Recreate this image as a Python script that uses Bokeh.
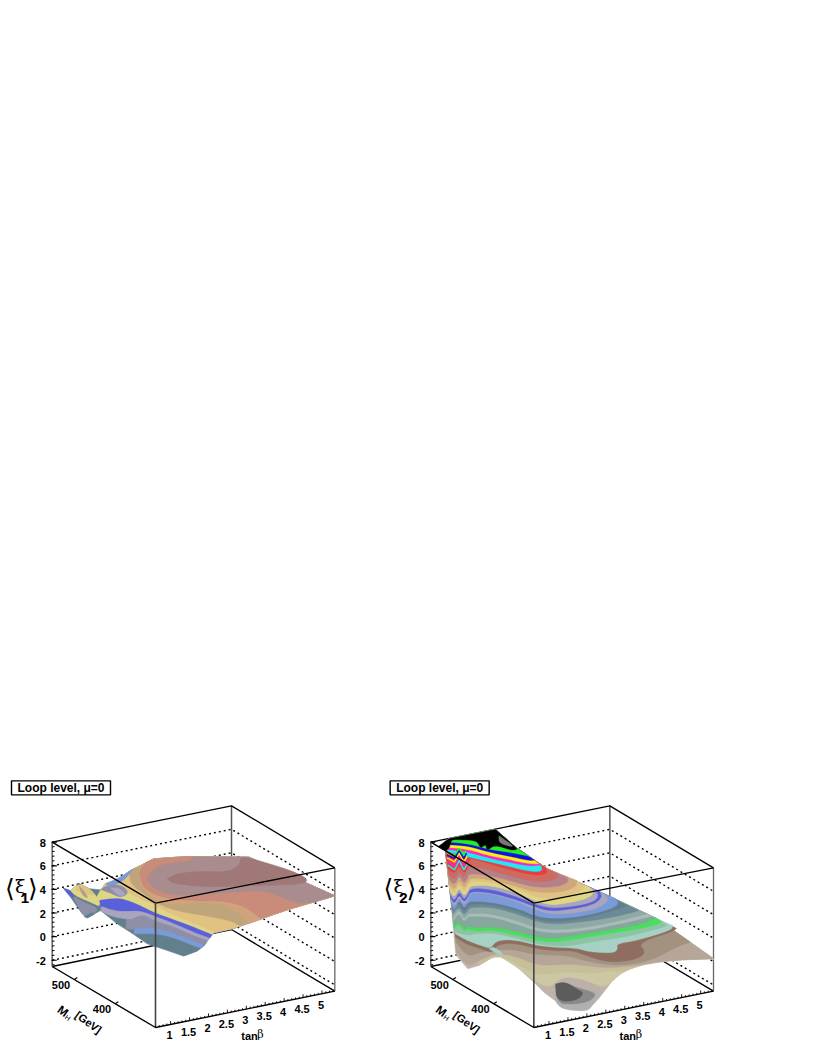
from bokeh.plotting import figure
from bokeh.models import Range1d
from bokeh.layouts import row
from bokeh.embed import file_html
from bokeh.resources import INLINE
from bokeh.core.properties import value

# ---------- axis values ----------
z_ticks = [-2, 0, 2, 4, 6, 8]
z_labels = ["-2", "0", "2", "4", "6", "8"]
z_grid = [-2, 0, 2, 4, 6]
tan_ticks = [1, 1.5, 2, 2.5, 3, 3.5, 4, 4.5, 5]
tan_labels = ["1", "1.5", "2", "2.5", "3", "3.5", "4", "4.5", "5"]
mh_ticks = [400, 500]
mh_labels = ["400", "500"]
Z_MIN, Z_MAX = -2.53, 8.0
TAN_MIN, TAN_MAX = 0.6, 5.34
MH_MIN, MH_MAX = 302.0, 554.0

# ---------- surface 1 : picture units ----------
s1_outline = [(188,353),(210,360),(235,338),(268,355),(300,358),(315,340),(345,328),(360,320),(390,300),(420,285),(460,265),(560,258),(745,260),(1003,376),(860,418),(695,475),(640,487),(625,505),(612,525),(590,542),(550,557),(500,540),(440,520),(400,492),(350,460),(300,420),(260,443),(245,430),(210,380)]
s1_ring = [(300,358),(315,340),(345,328),(360,320),(390,300),(420,285),(460,265),(560,258),(745,260),(1003,376)]
s1_lower = [(860,418),(695,475),(640,487),(625,505)]
s1_base_colour = "#62808c"
s1_bands = [
 ("#7b9bd8", [(602,533),(590,530),(520,502),(470,490),(420,490),(400,490)]),
 ("#8d8ea8", [(612,522),(580,512),(520,487),(460,472),(420,472),(390,478),(375,474)]),
 ("#a9a5be", [(622,510),(580,495),(520,468),(460,450),(430,432),(405,440),(390,447),(340,440),(300,422)]),
 ("#5a5fdc", [(628,502),(580,485),(520,458),(460,435),(420,420),(375,422),(340,420),(300,405),(280,405)]),
 ("#dfd685", [(635,492),(570,465),(520,447),(460,425),(420,405),(390,392),(355,382),(320,385),(300,388),(280,395)]),
 ("#e2c283", [(645,486),(570,453),(520,434),(465,405),(420,385),(395,372),(360,355),(345,360),(320,362),(301,358)]),
 ("#bfa57b", [(720,467),(690,450),(610,435),(530,422),(465,398),(430,370),(395,345),(385,320),(392,298)]),
 ("#d1a37c", [(745,460),(725,430),(660,400),(600,395),(530,405),(470,395),(440,370),(420,340),(415,320),(425,284)]),
 ("#c98b7a", [(780,444),(730,405),(660,390),(600,392),(500,385),(435,360),(418,325),(418,300),(435,276)]),
 ("#a98d8e", [(945,394),(885,400),(800,360),(720,362),(640,370),(520,375),(470,360),(445,340),(440,318),(470,285),(530,275),(570,272),(575,259)]),
]
s1_patches = [
 ("#a07878", [(500,325),(525,310),(590,302),(685,305),(720,280),(718,262),(745,260),(910,312),(925,340),(800,345),(760,345),(620,350),(520,340)]),
 ("#8d8ea8", [(215,375),(250,395),(300,415),(260,443),(245,430)]),
 ("#62808c", [(250,438),(275,425),(285,430),(260,443)]),
 ("#5a5fdc", [(188,353),(210,360),(225,385),(205,372)]),
 ("#dfd685", [(210,360),(235,338),(268,355),(295,385),(300,410),(270,395),(245,385),(220,372)]),
 ("#e2c283", [(225,360),(235,340),(268,355),(285,375),(255,370)]),
 ("#b0a088", [(235,345),(245,375),(265,385),(250,360)]),
 ("#7b9bd8", [(315,340),(345,328),(360,320),(390,300),(400,295),(375,325),(350,342),(325,347)]),
 ("#8d8ea8", [(302,358),(315,346),(345,342),(370,348),(385,368),(360,382),(330,368)]),
 ("#a9a5be", [(330,352),(355,352),(378,372),(355,378)]),
]
s1_traces = []

# ---------- surface 2 : picture units ----------
s2_outline = [(175,228),(205,205),(345,177),(405,230),(500,295),(660,365),(830,445),(1000,565),(900,568),(840,574),(790,582),(750,595),(720,610),(695,632),(675,658),(655,684),(635,705),(610,714),(580,714),(550,705),(520,688),(490,665),(460,635),(410,590),(350,552),(295,585),(262,595),(230,558),(225,545),(212,400),(195,240)]
s2_top = [(1000,565),(830,445),(660,365),(500,295),(405,230),(345,177),(205,205),(175,228),(195,240)]
s2_base_colour = "#bfb3aa"
s2_bands = [
 ("#cdc8a4", [(350,552),(410,590),(460,630),(500,650),(530,640),(570,628),(640,640),(672,650),(695,632),(720,610),(750,595),(790,582),(840,574),(900,568),(1000,565)]),
 ("#c6bf9a", [(295,585),(350,552),(420,585),(460,610),(500,612),(560,603),(640,610),(690,600),(720,606),(750,595),(790,582),(840,574),(900,568),(1000,565)]),
 ("#b5a698", [(228,545),(262,590),(300,568),(350,548),(400,556),(460,580),(500,585),(580,580),(660,592),(720,590),(790,582),(840,574),(900,568),(1000,565)]),
 ("#a39280", [(226,515),(262,560),(300,545),(345,538),(400,537),(460,552),(560,555),(610,570),(690,585),(770,580),(830,562),(890,528),(930,515)]),
 ("#8f6d5f", [(225,500),(255,520),(295,533),(335,548),(345,530),(355,523),(385,518),(425,523),(460,533),(510,540),(580,541),(620,557),(690,577),(770,567),(797,545),(772,517),(880,482),(888,473)]),
 ("#a6d2c6", [(224,490),(255,508),(295,523),(330,535),(345,513),(380,507),(425,513),(460,523),(510,530),(590,533),(630,545),(700,548),(712,535),(708,520),(770,510),(870,480),(878,466)]),
 ("#8cc4a4", [(222,484),(262,495),(285,490),(335,487),(395,500),(460,518),(510,526),(560,528),(660,510),(750,497),(850,470),(860,465)]),
 ("#47e05a", [(221,474),(236,460),(250,484),(262,474),(285,483),(335,478),(415,495),(460,508),(510,515),(560,510),(680,490),(780,474),(835,460),(842,454)]),
 ("#86a89c", [(220,466),(236,452),(250,476),(262,466),(285,473),(335,468),(415,485),(460,498),(510,505),(560,500),(680,480),(780,462),(825,443)]),
 ("#a9bcba", [(219,450),(236,425),(250,455),(262,440),(270,437),(335,439),(415,463),(460,479),(510,488),(600,483),(730,458),(815,437)]),
 ("#8fa9a6", [(218,442),(236,415),(250,447),(262,432),(270,428),(335,430),(415,453),(460,470),(510,478),(600,474),(730,449),(800,430)]),
 ("#6b8a96", [(217,430),(236,408),(250,435),(262,420),(270,410),(335,410),(415,432),(460,450),(510,462),(600,455),(690,442),(760,425),(775,420)]),
 ("#627d8e", [(216,418),(236,395),(250,423),(262,410),(270,400),(335,402),(415,424),(460,443),(510,455),(590,447),(660,432),(725,412),(740,405)]),
 ("#7b9bd8", [(214,405),(222,420),(236,385),(250,415),(262,398),(270,392),(335,395),(415,415),(460,435),(510,445),(590,440),(660,425),(715,405),(707,385)]),
 ("#a9a5be", [(212,392),(222,410),(236,378),(250,405),(262,388),(270,365),(335,370),(415,395),(460,415),(510,432),(580,428),(650,415),(685,390),(677,376)]),
 ("#5a5fdc", [(210,380),(222,402),(236,370),(250,396),(262,380),(270,362),(335,367),(415,390),(460,408),(510,423),(580,415),(640,402),(665,380),(657,363)]),
 ("#a9a5be", [(209,372),(222,392),(236,360),(250,388),(262,372),(270,352),(335,356),(415,380),(460,400),(510,413),(560,410),(630,398),(655,380),(645,358)]),
 ("#dfd685", [(208,362),(222,382),(236,350),(250,378),(262,362),(270,345),(335,345),(415,368),(460,390),(510,404),(550,400),(620,385),(642,367),(628,351)]),
 ("#e2c283", [(207,352),(222,372),(236,338),(250,366),(262,348),(270,332),(335,335),(415,358),(460,378),(510,388),(540,382),(600,365),(615,345),(605,341)]),
 ("#cfa77c", [(206,340),(222,360),(236,326),(250,354),(262,335),(270,322),(335,328),(415,350),(460,365),(530,367),(585,352),(590,330)]),
 ("#b5808a", [(205,326),(222,345),(236,312),(250,340),(262,322),(265,308),(335,316),(415,338),(460,350),(530,350),(565,335),(560,321)]),
 ("#cf6a60", [(204,312),(222,328),(236,298),(250,326),(262,292),(300,290),(400,320),(460,333),(510,332),(535,320),(530,310)]),
 ("#ee3b3b", [(203,296),(222,310),(236,282),(250,310),(262,292),(266,262),(295,270),(395,300),(465,315),(500,310),(497,295)]),
 ("#22e8f0", [(209,246),(265,260),(365,283),(445,303),(485,303),(483,287)]),
 ("#ff22cc", [(208,238),(265,245),(325,263),(385,275),(445,287),(480,284)]),
 ("#ffee10", [(208,231),(265,237),(325,255),(385,267),(445,280),(475,280)]),
 ("#1010e0", [(208,223),(265,227),(325,245),(385,257),(445,270),(462,269)]),
 ("#22ee22", [(208,215),(265,220),(325,237),(385,245),(445,257),(447,259)]),
 ("#000000", [(197,240),(207,232),(212,207),(240,208),(290,210),(300,235),(315,220),(320,240),(340,225),(365,230),(395,240),(410,236)]),
]
s2_patches = [
 ("#777777", [(355,195),(405,230),(375,225),(355,215)]),
 ("#a6d2c6", [(325,535),(360,555),(368,548),(338,528)]),
 ("#bdb0aa", [(510,650),(545,620),(600,625),(665,650),(655,690),(600,680)]),
 ("#b0b0b0", [(525,645),(550,632),(585,650),(665,668),(640,695),(625,722),(570,720),(540,712),(522,690)]),
 ("#8a8a8a", [(525,645),(550,634),(590,652),(652,668),(625,695),(570,702),(532,698)]),
 ("#5c5c5c", [(525,640),(555,634),(588,655),(612,668),(585,692),(528,692)]),
]
s2_traces = [
 ("#22e8f0", [(202,284),(222,298),(236,270),(250,298),(262,278)]),
 ("#ff22cc", [(201,272),(222,286),(236,258),(250,286),(260,268)]),
 ("#ffee10", [(200,262),(222,274),(236,248),(250,274),(260,258)]),
 ("#1010e0", [(199,254),(222,264),(236,240),(250,264),(258,248)]),
 ("#22ee22", [(198,247),(222,254),(236,234),(250,254),(256,240)]),
]

# ---------- box corners : picture units ----------
box1 = dict(L=(155,215,588), F=(465,398,771), R=(1003,292,662), B=(693,106,477))
box2 = dict(L=(151,215,588), F=(460,398,771), R=(999,292,662), B=(688,106,477))

def zpos(c, z):
    t = (z - Z_MIN) / (Z_MAX - Z_MIN)
    return c[2] + (c[1] - c[2]) * t

def on_tan(box, t):
    f = (t - TAN_MIN) / (TAN_MAX - TAN_MIN)
    return box["F"][0] + (box["R"][0]-box["F"][0])*f, box["F"][2] + (box["R"][2]-box["F"][2])*f

def on_mh(box, m):
    f = (m - MH_MIN) / (MH_MAX - MH_MIN)
    return box["F"][0] + (box["L"][0]-box["F"][0])*f, box["F"][2] + (box["L"][2]-box["F"][2])*f

def xs(pts): return [p[0] for p in pts]
def ys(pts): return [p[1] for p in pts]

def rounded(pts):
    # corner rounding of a drawn curve; the end points stay where they are
    for _ in range(2):
        out = [pts[0]]
        for a, b in zip(pts[:-1], pts[1:]):
            out.append((0.75*a[0]+0.25*b[0], 0.75*a[1]+0.25*b[1]))
            out.append((0.25*a[0]+0.75*b[0], 0.25*a[1]+0.75*b[1]))
        out.append(pts[-1])
        pts = out
    return pts

def polygon1(contour):
    left = contour[-1][0]
    start = contour[0][0]
    return rounded(contour) + [p for p in s1_ring if p[0] > left] + [p for p in s1_lower if p[0] > start]

def polygon2(contour):
    right = contour[-1][0]
    return rounded(contour) + [p for p in s2_top if p[0] < right]

def txt(p, x, y, s, size, font="Liberation Sans", style="bold", align="center", angle=0, color="#000000"):
    p.text([x], [y], text=[s], text_font=value(font), text_font_style=style,
           text_font_size=f"{size}px", text_align=align, text_baseline="middle",
           angle=angle, text_color=color)

def panel(box, outline, base, bands, polyf, patches, traces, xr, w, sub):
    p = figure(width=w, height=1050, x_range=Range1d(*xr), y_range=Range1d(840, -2310),
               toolbar_location=None, output_backend="svg", min_border=0,
               outline_line_color=None)
    p.axis.visible = False
    p.grid.visible = False
    L, F, R, B = box["L"], box["F"], box["R"], box["B"]
    # back lines & dotted grid
    for z in z_grid:
        p.line([L[0], B[0], R[0]], [zpos(L,z), zpos(B,z), zpos(R,z)], line_color="#000000",
               line_width=1.4, line_dash="2 3")
    p.line([L[0], B[0], R[0]], [L[2], B[2], R[2]], line_color="#000000", line_width=1.3)
    p.line([B[0], B[0]], [B[1], B[2]], line_color="#555555", line_width=1.5)
    p.line([R[0], R[0]], [R[1], R[2]], line_color="#666666", line_width=1.3)
    p.line([L[0], B[0], R[0]], [L[1], B[1], R[1]], line_color="#000000", line_width=1.3)
    # surface
    p.patch(xs(outline), ys(outline), fill_color=base, line_color=base, line_width=0.5)
    for col, contour in bands:
        poly = polyf(contour)
        p.patch(xs(poly), ys(poly), fill_color=col, line_color=col, line_width=0.3)
    for col, poly in patches:
        poly = rounded(poly + poly[:1])
        p.patch(xs(poly), ys(poly), fill_color=col, line_color=col, line_width=0.3)
    for col, tr in traces:
        p.line(xs(tr), ys(tr), line_color=col, line_width=1.5)
    # front box
    p.line([L[0], F[0], R[0]], [L[1], F[1], R[1]], line_color="#000000", line_width=1.4)
    p.line([L[0], F[0], R[0]], [L[2], F[2], R[2]], line_color="#000000", line_width=1.4)
    p.line([F[0], F[0]], [F[1], F[2]], line_color="#444444", line_width=1.6)
    p.line([L[0], L[0]], [L[1], L[2]], line_color="#555555", line_width=1.4)
    # z axis
    for i in range(0, 26):
        z = -2.4 + 0.4 * i
        if z > 8.01: break
        y = zpos(L, z)
        p.line([L[0], L[0]+7], [y, y - 1], line_color="#000000", line_width=1)
    for z, s in zip(z_ticks, z_labels):
        y = zpos(L, z)
        p.line([L[0]-2, L[0]+14], [y, y], line_color="#000000", line_width=1.2)
        txt(p, L[0]-19, y + 2, s, 11, align="right")
    # tanβ axis
    for i in range(0, 48):
        t = 0.6 + 0.1 * i
        if t > TAN_MAX: break
        x, y = on_tan(box, t)
        major = abs(t*2 - round(t*2)) < 1e-6
        p.line([x, x], [y, y - (10 if major else 5)], line_color="#000000", line_width=0.9)
    for t, s in zip(tan_ticks, tan_labels):
        x, y = on_tan(box, t)
        txt(p, x - 3, y + 33, s, 11)
    # MH axis
    for m, s in zip(mh_ticks, mh_labels):
        x, y = on_mh(box, m)
        p.line([x, x + 9], [y, y - 6], line_color="#000000", line_width=1.2)
        txt(p, x - 40, y + 16, s, 11)
    # titles
    txt(p, F[0]+282, 796, "tan", 11)
    txt(p, F[0]+315, 792, "β", 11, font="DejaVu Serif", style="normal")
    txt(p, F[0]-278, 722, "M", 12, angle=-0.63)
    txt(p, F[0]-263, 742, "H", 7, angle=-0.63, style="normal")
    txt(p, F[0]-201, 755, "[GeV]", 11, angle=-0.63)
    txt(p, L[0]-127, 355, "⟨", 25, font="DejaVu Sans", style="normal")
    txt(p, L[0]-96, 347, "ξ", 19, font="DejaVu Serif", style="normal")
    txt(p, L[0]-58, 355, "⟩", 25, font="DejaVu Sans", style="normal")
    txt(p, L[0]-82, 383, sub, 15)
    # legend box
    x0, x1 = L[0]-122, L[0]+175
    p.patch([x0, x1, x1, x0], [31, 31, 73, 73], fill_color="#ffffff", line_color="#000000", line_width=1.4)
    txt(p, (x0+x1)/2, 53, "Loop level, μ=0", 12)
    return p

pa = panel(box1, s1_outline, s1_base_colour, s1_bands, polygon1, s1_patches, s1_traces, (0, 1134), 378, "1")
pb = panel(box2, s2_outline, s2_base_colour, s2_bands, polygon2, s2_patches, s2_traces, (-6, 1287), 431, "2")
page = row(pa, pb, spacing=0)
open("out.html", "w").write(file_html(page, INLINE))
